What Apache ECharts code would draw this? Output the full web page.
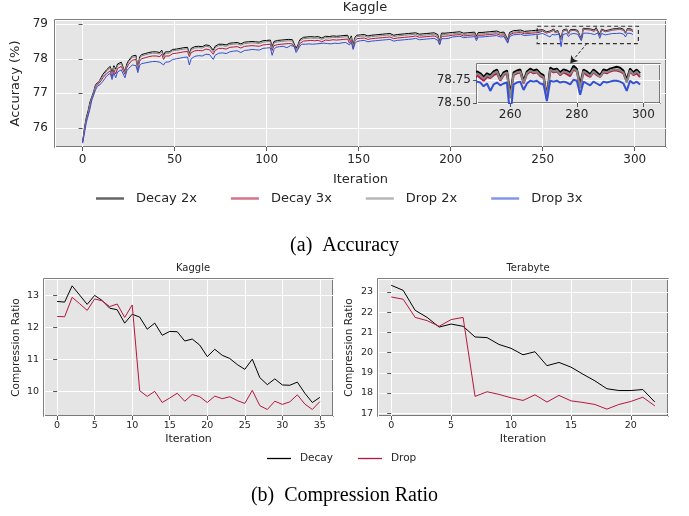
<!DOCTYPE html>
<html><head><meta charset="utf-8">
<script src="https://cdn.jsdelivr.net/npm/echarts@6/dist/echarts.min.js"></script>
<style>html,body{margin:0;padding:0;background:#fff}#c{width:689px;height:516px}</style>
</head><body><div id="c"></div>
<script>
// ---------- Accuracy (Kaggle), iterations 0..299 ----------
const decay2x = [
75.60,76.00,76.30,76.50,76.75,76.90,77.05,77.25,77.30,77.35,
77.45,77.55,77.60,77.68,77.65,77.78,77.60,77.80,77.70,77.85,
77.82,77.90,77.88,77.62,77.85,77.95,78.00,78.08,78.05,78.10,
77.75,78.05,78.12,78.10,78.15,78.12,78.18,78.15,78.20,78.18,
78.20,78.22,78.18,78.25,78.10,78.20,78.22,78.20,78.25,78.27,
78.25,78.28,78.26,78.30,78.28,78.32,78.30,78.33,78.15,78.30,
78.32,78.35,78.33,78.36,78.38,78.35,78.37,78.40,78.36,78.38,
78.40,78.25,78.36,78.40,78.42,78.38,78.42,78.44,78.40,78.43,
78.45,78.42,78.46,78.44,78.47,78.45,78.43,78.47,78.48,78.45,
78.49,78.47,78.50,78.46,78.49,78.51,78.48,78.50,78.52,78.49,
78.53,78.51,78.54,78.35,78.50,78.55,78.53,78.56,78.54,78.57,
78.55,78.53,78.56,78.58,78.55,78.57,78.30,78.40,78.55,78.60,
78.62,78.60,78.63,78.61,78.64,78.60,78.63,78.61,78.64,78.62,
78.60,78.63,78.65,78.62,78.64,78.61,78.66,78.63,78.65,78.62,
78.66,78.64,78.67,78.65,78.68,78.55,78.66,78.40,78.62,78.68,
78.66,78.69,78.67,78.70,78.68,78.66,78.70,78.68,78.71,78.69,
78.72,78.70,78.67,78.71,78.69,78.72,78.70,78.73,78.71,78.68,
78.72,78.70,78.73,78.71,78.74,78.72,78.70,78.73,78.71,78.74,
78.72,78.75,78.73,78.71,78.74,78.72,78.75,78.73,78.76,78.74,
78.72,78.75,78.73,78.70,78.50,78.74,78.76,78.74,78.77,78.75,
78.73,78.76,78.74,78.77,78.75,78.78,78.76,78.74,78.77,78.75,
78.78,78.76,78.74,78.77,78.65,78.76,78.78,78.76,78.79,78.77,
78.75,78.78,78.76,78.79,78.77,78.80,78.78,78.76,78.79,78.77,
78.74,78.55,78.76,78.79,78.81,78.79,78.82,78.80,78.83,78.81,
78.79,78.82,78.80,78.83,78.81,78.78,78.82,78.80,78.83,78.81,
78.84,78.82,78.78,78.82,78.80,78.84,78.86,78.77,78.83,78.85,
78.60,78.83,78.85,78.86,78.74,78.84,78.87,78.85,78.86,78.82,
78.80,78.57,78.88,78.86,78.87,78.83,78.86,78.85,78.83,78.90,
78.87,78.70,78.86,78.84,78.81,78.86,78.83,78.80,78.86,78.85,
78.87,78.88,78.89,78.88,78.85,78.75,78.87,78.83,78.86,78.82];
const decay3x = [
75.58,75.92,76.22,76.42,76.68,76.85,77.00,77.18,77.24,77.28,
77.36,77.45,77.50,77.57,77.52,77.65,77.48,77.68,77.56,77.72,
77.70,77.78,77.76,77.55,77.74,77.84,77.88,77.96,77.93,77.98,
77.68,77.93,78.00,77.98,78.03,78.00,78.06,78.03,78.08,78.06,
78.08,78.10,78.06,78.13,77.98,78.08,78.10,78.08,78.13,78.15,
78.13,78.16,78.14,78.18,78.16,78.20,78.18,78.21,78.06,78.18,
78.20,78.23,78.21,78.24,78.26,78.23,78.25,78.28,78.24,78.26,
78.28,78.13,78.24,78.28,78.30,78.26,78.30,78.32,78.28,78.31,
78.33,78.30,78.34,78.32,78.35,78.33,78.31,78.35,78.36,78.33,
78.37,78.35,78.38,78.34,78.37,78.39,78.36,78.38,78.40,78.37,
78.41,78.39,78.42,78.24,78.38,78.43,78.41,78.44,78.42,78.45,
78.43,78.41,78.44,78.46,78.43,78.45,78.24,78.30,78.44,78.49,
78.51,78.49,78.52,78.50,78.53,78.49,78.52,78.50,78.53,78.51,
78.49,78.52,78.54,78.51,78.53,78.50,78.55,78.52,78.54,78.51,
78.55,78.53,78.56,78.54,78.57,78.45,78.55,78.30,78.52,78.58,
78.56,78.59,78.57,78.60,78.58,78.56,78.60,78.58,78.61,78.59,
78.62,78.60,78.57,78.61,78.59,78.62,78.60,78.63,78.61,78.58,
78.62,78.60,78.63,78.61,78.64,78.62,78.60,78.63,78.61,78.64,
78.63,78.66,78.64,78.62,78.65,78.63,78.66,78.64,78.67,78.65,
78.63,78.66,78.64,78.61,78.42,78.65,78.67,78.65,78.68,78.66,
78.65,78.68,78.66,78.69,78.67,78.70,78.68,78.66,78.69,78.67,
78.70,78.68,78.66,78.69,78.58,78.68,78.70,78.68,78.71,78.69,
78.67,78.70,78.68,78.71,78.69,78.72,78.70,78.68,78.71,78.69,
78.66,78.48,78.69,78.72,78.74,78.72,78.75,78.73,78.76,78.74,
78.72,78.75,78.73,78.76,78.74,78.71,78.75,78.73,78.76,78.74,
78.80,78.77,78.74,78.78,78.77,78.80,78.82,78.74,78.80,78.82,
78.56,78.80,78.82,78.83,78.71,78.81,78.84,78.82,78.83,78.79,
78.77,78.55,78.85,78.83,78.84,78.80,78.83,78.81,78.79,78.86,
78.84,78.66,78.83,78.80,78.78,78.83,78.80,78.78,78.83,78.82,
78.84,78.85,78.85,78.84,78.82,78.73,78.84,78.80,78.82,78.78];
const drop2x = [
75.58,75.95,76.25,76.45,76.70,76.88,77.02,77.22,77.28,77.32,
77.42,77.50,77.57,77.64,77.60,77.74,77.55,77.76,77.66,77.81,
77.78,77.86,77.84,77.60,77.80,77.91,77.96,78.04,78.01,78.06,
77.72,78.01,78.08,78.06,78.11,78.08,78.14,78.11,78.16,78.14,
78.16,78.18,78.14,78.21,78.05,78.16,78.18,78.16,78.21,78.23,
78.21,78.24,78.22,78.26,78.24,78.28,78.26,78.29,78.12,78.26,
78.28,78.31,78.29,78.32,78.34,78.31,78.33,78.36,78.32,78.34,
78.36,78.20,78.32,78.36,78.38,78.34,78.38,78.40,78.36,78.39,
78.41,78.38,78.42,78.40,78.43,78.41,78.39,78.43,78.44,78.41,
78.45,78.43,78.46,78.42,78.45,78.47,78.44,78.46,78.48,78.45,
78.49,78.47,78.50,78.30,78.46,78.51,78.49,78.52,78.50,78.53,
78.51,78.49,78.52,78.54,78.51,78.53,78.26,78.36,78.51,78.56,
78.58,78.56,78.59,78.57,78.60,78.56,78.59,78.57,78.60,78.58,
78.56,78.59,78.61,78.58,78.60,78.57,78.62,78.59,78.61,78.58,
78.62,78.60,78.63,78.61,78.64,78.51,78.62,78.35,78.58,78.64,
78.62,78.65,78.63,78.66,78.64,78.62,78.66,78.64,78.67,78.65,
78.68,78.66,78.63,78.67,78.65,78.68,78.66,78.69,78.67,78.64,
78.68,78.66,78.69,78.67,78.70,78.68,78.66,78.69,78.67,78.70,
78.68,78.71,78.69,78.67,78.70,78.68,78.71,78.69,78.72,78.70,
78.68,78.71,78.69,78.66,78.46,78.70,78.72,78.70,78.73,78.71,
78.69,78.72,78.70,78.73,78.71,78.74,78.72,78.70,78.73,78.71,
78.74,78.72,78.70,78.73,78.61,78.72,78.74,78.72,78.75,78.73,
78.71,78.74,78.72,78.75,78.73,78.76,78.74,78.72,78.75,78.73,
78.70,78.51,78.72,78.75,78.77,78.75,78.78,78.76,78.79,78.77,
78.75,78.78,78.76,78.79,78.77,78.74,78.78,78.76,78.79,78.77,
78.82,78.80,78.76,78.80,78.78,78.82,78.84,78.75,78.81,78.83,
78.55,78.81,78.83,78.84,78.72,78.82,78.85,78.83,78.84,78.80,
78.78,78.54,78.86,78.84,78.85,78.81,78.84,78.83,78.81,78.87,
78.85,78.66,78.84,78.82,78.79,78.84,78.81,78.78,78.84,78.83,
78.85,78.86,78.86,78.85,78.83,78.72,78.85,78.81,78.84,78.80];
const drop3x = [
75.56,75.85,76.15,76.18,76.55,76.80,76.95,77.10,77.20,77.25,
77.28,77.35,77.42,77.50,77.45,77.58,77.40,77.60,77.45,77.62,
77.60,77.68,77.66,77.45,77.65,77.72,77.75,77.82,77.78,77.80,
77.60,77.80,77.86,77.84,77.88,77.85,77.90,77.88,77.92,77.90,
77.92,77.94,77.90,77.95,77.82,77.90,77.93,77.91,77.96,77.98,
77.96,78.00,77.98,78.02,78.00,78.04,78.02,78.05,77.82,78.00,
78.04,78.07,78.05,78.09,78.11,78.08,78.10,78.13,78.09,78.12,
78.14,77.98,78.10,78.14,78.16,78.12,78.17,78.19,78.15,78.18,
78.20,78.17,78.22,78.19,78.23,78.21,78.18,78.23,78.24,78.21,
78.25,78.23,78.27,78.22,78.26,78.28,78.25,78.27,78.30,78.26,
78.31,78.29,78.32,78.10,78.27,78.33,78.31,78.35,78.33,78.36,
78.34,78.32,78.35,78.38,78.34,78.36,78.18,78.22,78.36,78.42,
78.44,78.42,78.45,78.43,78.46,78.42,78.45,78.43,78.46,78.44,
78.42,78.45,78.47,78.44,78.46,78.43,78.48,78.45,78.47,78.44,
78.48,78.46,78.49,78.47,78.50,78.40,78.48,78.27,78.44,78.50,
78.49,78.52,78.50,78.53,78.51,78.49,78.53,78.51,78.54,78.52,
78.55,78.53,78.50,78.54,78.52,78.55,78.53,78.56,78.54,78.51,
78.55,78.53,78.56,78.54,78.57,78.55,78.53,78.56,78.54,78.57,
78.56,78.59,78.57,78.55,78.58,78.56,78.59,78.57,78.60,78.58,
78.56,78.59,78.57,78.53,78.40,78.58,78.60,78.58,78.61,78.59,
78.60,78.63,78.61,78.64,78.62,78.65,78.63,78.61,78.64,78.62,
78.65,78.63,78.61,78.64,78.52,78.63,78.65,78.63,78.66,78.64,
78.62,78.65,78.63,78.66,78.64,78.67,78.65,78.63,78.66,78.64,
78.61,78.45,78.64,78.67,78.69,78.67,78.70,78.68,78.71,78.69,
78.67,78.70,78.68,78.71,78.69,78.66,78.70,78.68,78.71,78.69,
78.73,78.72,78.68,78.71,78.63,78.70,78.72,78.69,78.71,78.72,
78.35,78.70,78.72,78.73,78.64,78.71,78.74,78.73,78.74,78.71,
78.70,78.52,78.74,78.73,78.74,78.72,78.73,78.72,78.70,78.75,
78.74,78.59,78.73,78.71,78.69,78.73,78.71,78.69,78.73,78.72,
78.73,78.74,78.74,78.73,78.71,78.63,78.74,78.71,78.73,78.70];

// ---------- Compression ratio ----------
const kaggleDecay = [12.82,12.80,13.31,13.02,12.73,13.01,12.85,12.61,12.56,12.14,12.42,12.33,11.95,12.14,11.76,11.88,11.87,11.58,11.64,11.45,11.09,11.32,11.13,11.03,10.84,10.69,11.01,10.43,10.21,10.39,10.20,10.19,10.29,9.94,9.65,9.81];
const kaggleDrop  = [12.35,12.34,12.95,12.75,12.54,12.90,12.84,12.66,12.74,12.32,12.71,10.02,9.84,10.00,9.65,9.79,9.94,9.69,9.90,9.83,9.65,9.85,9.77,9.83,9.71,9.62,10.03,9.55,9.43,9.69,9.59,9.67,9.89,9.60,9.43,9.68];
const teraDecay = [23.33,23.08,22.09,21.74,21.26,21.41,21.30,20.77,20.74,20.40,20.21,19.89,20.04,19.35,19.51,19.28,18.93,18.60,18.21,18.12,18.12,18.17,17.55];
const teraDrop  = [22.75,22.64,21.74,21.58,21.30,21.63,21.74,17.83,18.06,17.93,17.76,17.63,17.91,17.55,17.88,17.61,17.53,17.43,17.20,17.43,17.58,17.79,17.36];

// zoom annotation (data units)
const zoomBox = [[247, 78.94], [302, 78.44]];
const zoomArrow = [[274, 78.44], [265, 77.87]];

const topNames = ['Decay 2x','Decay 3x','Drop 2x','Drop 3x'];
const topData = [decay2x, decay3x, drop2x, drop3x];
const topColors = ['#000000','#b5173e','#858585','#3350d6'];

const pairs = a => a.map((v,i)=>[i,v]);
const FONT = 'DejaVu Sans';
const TXT = '#262626';

function axisBase(fs, margin) {
  return {
    axisLine:{show:false},
    axisTick:{show:true, length:4, lineStyle:{color:'#555', width:1}},
    axisLabel:{color:TXT, fontFamily:FONT, fontSize:fs, margin:margin, showMinLabel:false, showMaxLabel:false},
    splitLine:{show:true, lineStyle:{color:'#ffffff', width:1}}
  };
}

const gridStyle = {show:true, backgroundColor:'#e5e5e5', borderColor:'#555555', borderWidth:1.5, containLabel:false};

const option = {
  animation:false,
  backgroundColor:'#ffffff',
  title:[
    {text:'Kaggle', left:360, top:-4, textAlign:'center', textStyle:{fontFamily:FONT, fontSize:13, fontWeight:'normal', color:TXT}},
    {text:'Kaggle', left:188, top:258, textAlign:'center', textStyle:{fontFamily:FONT, fontSize:10, fontWeight:'normal', color:TXT}},
    {text:'Terabyte', left:523, top:258, textAlign:'center', textStyle:{fontFamily:FONT, fontSize:10, fontWeight:'normal', color:TXT}}
  ],
  grid:[
    Object.assign({left:55, top:20, width:611, height:127}, gridStyle),
    Object.assign({left:477, top:64, width:183, height:39, z:10}, gridStyle),
    Object.assign({left:44, top:279, width:289, height:137}, gridStyle),
    Object.assign({left:378, top:279, width:290, height:137}, gridStyle)
  ],
  xAxis:[
    Object.assign(axisBase(12, 7), {type:'value', gridIndex:0, min:-15, max:317, splitNumber:7,
      name:'Iteration', nameLocation:'middle', nameGap:26, nameTextStyle:{fontFamily:FONT, fontSize:13, color:TXT}}),
    Object.assign(axisBase(12, 6), {type:'value', gridIndex:1, min:250, max:305, splitNumber:3, z:10}),
    Object.assign(axisBase(9.5, 5), {type:'value', gridIndex:2, min:-1.75, max:36.75, splitNumber:8,
      name:'Iteration', nameLocation:'middle', nameGap:18, nameTextStyle:{fontFamily:FONT, fontSize:11, color:TXT}}),
    Object.assign(axisBase(9.5, 5), {type:'value', gridIndex:3, min:-1.1, max:23.1, splitNumber:5,
      name:'Iteration', nameLocation:'middle', nameGap:18, nameTextStyle:{fontFamily:FONT, fontSize:11, color:TXT}})
  ],
  yAxis:[
    Object.assign(axisBase(12, 7), {type:'value', gridIndex:0, min:75.45, max:79.12, splitNumber:4,
      name:'Accuracy (%)', nameLocation:'middle', nameGap:24, nameTextStyle:{fontFamily:FONT, fontSize:13, color:TXT}}),
    (function(){const a=axisBase(12,6); a.axisLabel.formatter=v=>v.toFixed(2); a.axisLabel.showMinLabel=true;
      return Object.assign(a,{type:'value', gridIndex:1, min:78.5, max:78.92, interval:0.25, z:10});})(),
    Object.assign(axisBase(9.5, 5), {type:'value', gridIndex:2, min:9.226, max:13.525, splitNumber:4,
      name:'Compression Ratio', nameLocation:'middle', nameGap:22, nameTextStyle:{fontFamily:FONT, fontSize:10.5, color:TXT}}),
    Object.assign(axisBase(9.5, 5), {type:'value', gridIndex:3, min:16.86, max:23.64, splitNumber:7,
      name:'Compression Ratio', nameLocation:'middle', nameGap:23, nameTextStyle:{fontFamily:FONT, fontSize:10.5, color:TXT}})
  ],
  legend:[
    {data:topNames, left:96, top:192, padding:0, icon:'rect', itemWidth:28, itemHeight:2.5, itemGap:34,
      itemStyle:{opacity:0.6}, textStyle:{fontFamily:FONT, fontSize:13, color:TXT, padding:[0,0,0,7]}},
    {data:['Decay','Drop'], left:267, top:453, padding:0, icon:'rect', itemWidth:24, itemHeight:1.3, itemGap:25,
      textStyle:{fontFamily:FONT, fontSize:10.5, color:TXT, padding:[0,0,0,4]}}
  ],
  series:[]
};

topNames.forEach((n,k)=>{
  option.series.push({name:n, type:'line', xAxisIndex:0, yAxisIndex:0, data:pairs(topData[k]),
    symbol:'none', color:topColors[k], lineStyle:{width:1, color:topColors[k]}, z:2+k});
});
topNames.forEach((n,k)=>{
  option.series.push({name:n, type:'line', xAxisIndex:1, yAxisIndex:1, data:pairs(topData[k]).slice(247),
    symbol:'none', color:topColors[k], lineStyle:{width:2, color:topColors[k]}, z:12+k, clip:true});
});
// zoom annotations
option.series.push({type:'line', xAxisIndex:0, yAxisIndex:0, data:[], silent:true, z:8,
  markArea:{silent:true, itemStyle:{color:'rgba(0,0,0,0)', borderColor:'#333', borderWidth:1.2, borderType:[4,3]},
    data:[[{coord:zoomBox[0]},{coord:zoomBox[1]}]]},
  markLine:{silent:true, symbol:['none','arrow'], symbolSize:7, label:{show:false},
    lineStyle:{color:'#222', width:1, type:[3,2]},
    data:[[{coord:zoomArrow[0]},{coord:zoomArrow[1]}]]}
});
option.series.push(
  {name:'Decay', type:'line', xAxisIndex:2, yAxisIndex:2, data:pairs(kaggleDecay), symbol:'none', color:'#000', lineStyle:{width:1}},
  {name:'Drop', type:'line', xAxisIndex:2, yAxisIndex:2, data:pairs(kaggleDrop), symbol:'none', color:'#b5173e', lineStyle:{width:1}},
  {name:'Decay', type:'line', xAxisIndex:3, yAxisIndex:3, data:pairs(teraDecay), symbol:'none', color:'#000', lineStyle:{width:1}},
  {name:'Drop', type:'line', xAxisIndex:3, yAxisIndex:3, data:pairs(teraDrop), symbol:'none', color:'#b5173e', lineStyle:{width:1}}
);
option.graphic = [
  {type:'text', left:'center', top:236, style:{text:'(a)\u2002Accuracy', font:'20px "Liberation Serif"', fill:'#000'}},
  {type:'text', left:'center', top:486, style:{text:'(b)\u2002Compression Ratio', font:'20px "Liberation Serif"', fill:'#000'}}
];

const chart = echarts.init(document.getElementById('c'), null, {renderer:'canvas'});
chart.setOption(option);
</script>
</body></html>
